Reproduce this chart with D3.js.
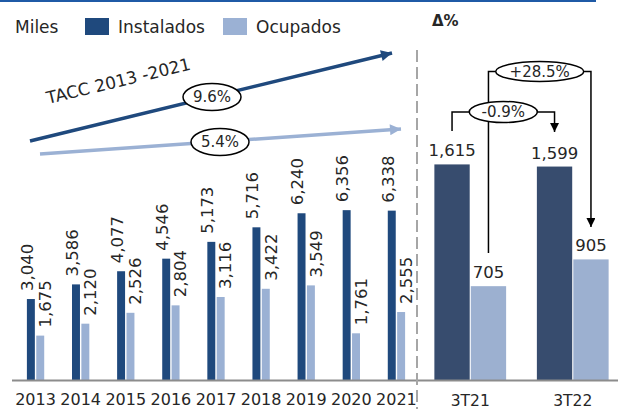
<!DOCTYPE html>
<html lang="es">
<head>
<meta charset="utf-8">
<title>Cuartos instalados y ocupados</title>
<script src="https://cdn.jsdelivr.net/npm/d3@7/dist/d3.min.js"></script>
<style>
  body { margin: 0; background: #fff; }
  svg text { font-family: "DejaVu Sans", sans-serif; fill: #262626; }
</style>
</head>
<body>
<script>
// data (miles)
var years = ["2013", "2014", "2015", "2016", "2017", "2018", "2019", "2020", "2021"];
var instalados = [3040, 3586, 4077, 4546, 5173, 5716, 6240, 6356, 6338];
var ocupados = [1675, 2120, 2526, 2804, 3116, 3422, 3549, 1761, 2555];

var quarters = ["3T21", "3T22"];
var instQ = [1615, 1599];
var ocupQ = [705, 905];

var seriesNames = ["Instalados", "Ocupados"];
var taccLabels = ["9.6%", "5.4%"];
var deltaLabels = ["-0.9%", "+28.5%"];

var W = 618, H = 409;
var base = 380.5;
var cInst = "#1f497d", cOcup = "#9bb1d4";
var cInstQ = "#374c6e", cOcupQ = "#9cb0d0";
var fmt = d3.format(",");

var svg = d3.select("body").append("svg").attr("width", W).attr("height", H);

var defs = svg.append("defs");
function marker(id, color, w, h) {
  defs.append("marker").attr("id", id)
    .attr("viewBox", "0 0 10 10").attr("refX", 10).attr("refY", 5)
    .attr("markerUnits", "userSpaceOnUse")
    .attr("markerWidth", w).attr("markerHeight", h)
    .attr("orient", "auto")
    .append("path").attr("d", "M0,0L10,5L0,10Z").attr("fill", color);
}
marker("arDark", cInst, 12, 11);
marker("arLight", cOcup, 12, 11);
marker("arBlack", "#000", 10, 9);

// top rule
svg.append("line").attr("x1", 0).attr("x2", 596).attr("y1", 1).attr("y2", 1)
  .attr("stroke", "#1f5aa6").attr("stroke-width", 2);

// ---- left panel: years ----
var x0 = d3.scaleBand().domain(years).range([13, 419]).paddingInner(0.616).paddingOuter(0.308);
var x1 = d3.scaleBand().domain(seriesNames).range([0, x0.bandwidth()]).paddingInner(0.15);
var yL = d3.scaleLinear().domain([0, 7000]).range([base, base - 7000 * 0.0268]);

var rows = years.map(function(y, i) { return {year: y, vals: [instalados[i], ocupados[i]]}; });

var g = svg.append("g").selectAll("g").data(rows).join("g")
  .attr("transform", function(d) { return "translate(" + x0(d.year) + ",0)"; });

g.selectAll("rect").data(function(d) { return d.vals.map(function(v, j) { return {k: seriesNames[j], v: v}; }); })
  .join("rect")
  .attr("x", function(d) { return x1(d.k); })
  .attr("width", x1.bandwidth())
  .attr("y", function(d) { return yL(d.v); })
  .attr("height", function(d) { return base - yL(d.v); })
  .attr("fill", function(d) { return d.k == "Instalados" ? cInst : cOcup; });

g.selectAll("text.v").data(function(d) { return d.vals.map(function(v, j) { return {k: seriesNames[j], v: v}; }); })
  .join("text").attr("class", "v")
  .attr("transform", function(d) {
    var cx = x1(d.k) + x1.bandwidth() / 2 + (d.k == "Instalados" ? -4 : 5);
    return "translate(" + cx + "," + (yL(d.v) - 8) + ") rotate(-90)";
  })
  .attr("dy", "0.35em")
  .attr("font-size", 16.5)
  .text(function(d) { return fmt(d.v); });

svg.append("g").selectAll("text").data(years).join("text")
  .attr("x", function(d) { return x0(d) + x0.bandwidth() / 2; })
  .attr("y", 405)
  .attr("text-anchor", "middle")
  .attr("font-size", 16)
  .text(function(d) { return d; });

// ---- right panel: quarters ----
var q0 = d3.scaleBand().domain(quarters).range([419, 624]).paddingInner(0.3).paddingOuter(0.15);
var q1 = d3.scaleBand().domain(seriesNames).range([0, q0.bandwidth()]).paddingInner(0.03);
var yR = d3.scaleLinear().domain([0, 1800]).range([base, base - 1800 * 0.1338]);

var qrows = quarters.map(function(q, i) { return {q: q, vals: [instQ[i], ocupQ[i]]}; });
var gq = svg.append("g").selectAll("g").data(qrows).join("g")
  .attr("transform", function(d) { return "translate(" + q0(d.q) + ",0)"; });

gq.selectAll("rect").data(function(d) { return d.vals.map(function(v, j) { return {k: seriesNames[j], v: v}; }); })
  .join("rect")
  .attr("x", function(d) { return q1(d.k); })
  .attr("width", q1.bandwidth())
  .attr("y", function(d) { return yR(d.v); })
  .attr("height", function(d) { return base - yR(d.v); })
  .attr("fill", function(d) { return d.k == "Instalados" ? cInstQ : cOcupQ; });

gq.selectAll("text").data(function(d) { return d.vals.map(function(v, j) { return {k: seriesNames[j], v: v}; }); })
  .join("text")
  .attr("x", function(d) { return q1(d.k) + q1.bandwidth() / 2; })
  .attr("y", function(d) { return yR(d.v) - 8; })
  .attr("text-anchor", "middle")
  .attr("font-size", 16.5)
  .text(function(d) { return fmt(d.v); });

svg.append("g").selectAll("text").data(quarters).join("text")
  .attr("x", function(d) { return q0(d) + q0.bandwidth() / 2; })
  .attr("y", 406)
  .attr("text-anchor", "middle")
  .attr("font-size", 15.5)
  .text(function(d) { return d; });

// baseline + divider
svg.append("line").attr("x1", 12).attr("x2", W).attr("y1", base).attr("y2", base)
  .attr("stroke", "#8c8c8c").attr("stroke-width", 2);
svg.append("line").attr("x1", 417).attr("x2", 417).attr("y1", 50).attr("y2", H)
  .attr("stroke", "#a6a6a6").attr("stroke-width", 2).attr("stroke-dasharray", "12,5");

// ---- legend ----
svg.append("text").attr("x", 15).attr("y", 33).attr("font-size", 17).text("Miles");
var leg = svg.append("g").selectAll("g").data(seriesNames).join("g")
  .attr("transform", function(d, i) { return "translate(" + (i ? 223 : 85) + ",0)"; });
leg.append("rect").attr("y", 18).attr("width", 24).attr("height", 17)
  .attr("fill", function(d) { return d == "Instalados" ? cInst : cOcup; });
leg.append("text").attr("x", 33).attr("y", 33).attr("font-size", 17).text(function(d) { return d; });

svg.append("text").attr("x", 432).attr("y", 26).attr("font-size", 15).attr("font-weight", "bold").text("Δ%");

// ---- TACC arrows ----
var tacc = [
  {x1: 30, y1: 141, x2: 392, y2: 53, c: cInst, m: "arDark", ex: 212, ey: 97, lab: taccLabels[0]},
  {x1: 40, y1: 154, x2: 401, y2: 129, c: cOcup, m: "arLight", ex: 220, ey: 142, lab: taccLabels[1]}
];
tacc.forEach(function(t) {
  svg.append("line").attr("x1", t.x1).attr("y1", t.y1).attr("x2", t.x2).attr("y2", t.y2)
    .attr("stroke", t.c).attr("stroke-width", 3.5).attr("marker-end", "url(#" + t.m + ")");
  svg.append("ellipse").attr("cx", t.ex).attr("cy", t.ey).attr("rx", 29).attr("ry", 13.5)
    .attr("fill", "#fff").attr("stroke", "#000").attr("stroke-width", 1.5);
  svg.append("text").attr("x", t.ex).attr("y", t.ey).attr("dy", "0.36em").attr("text-anchor", "middle")
    .attr("font-size", 15).text(t.lab);
});
svg.append("text").attr("transform", "translate(48,104) rotate(-13.5)")
  .attr("font-size", 17).text("TACC 2013 -2021");

// ---- delta brackets ----
function cx(q, k) { return q0(q) + q1(k) + q1.bandwidth() / 2; }
var brackets = [
  {xa: cx("3T21", "Instalados"), ya: 131, xb: cx("3T22", "Instalados"), yb: 132, top: 112, rx: 34, ry: 10.5, lab: deltaLabels[0]},
  {xa: cx("3T21", "Ocupados"), ya: 253, xb: cx("3T22", "Ocupados"), yb: 227, top: 71.5, rx: 44, ry: 10, lab: deltaLabels[1]}
];
// lines first, ellipses on top
brackets.forEach(function(b) {
  svg.append("path")
    .attr("d", "M" + b.xa + "," + b.ya + "V" + b.top + "H" + b.xb + "V" + b.yb)
    .attr("fill", "none").attr("stroke", "#000").attr("stroke-width", 1.5)
    .attr("marker-end", "url(#arBlack)");
});
brackets.forEach(function(b) {
  var mx = (b.xa + b.xb) / 2;
  svg.append("ellipse").attr("cx", mx).attr("cy", b.top).attr("rx", b.rx).attr("ry", b.ry)
    .attr("fill", "#fff").attr("stroke", "#000").attr("stroke-width", 1.5);
  svg.append("text").attr("x", mx).attr("y", b.top).attr("dy", "0.36em").attr("text-anchor", "middle")
    .attr("font-size", 15).text(b.lab);
});
</script>
</body>
</html>
